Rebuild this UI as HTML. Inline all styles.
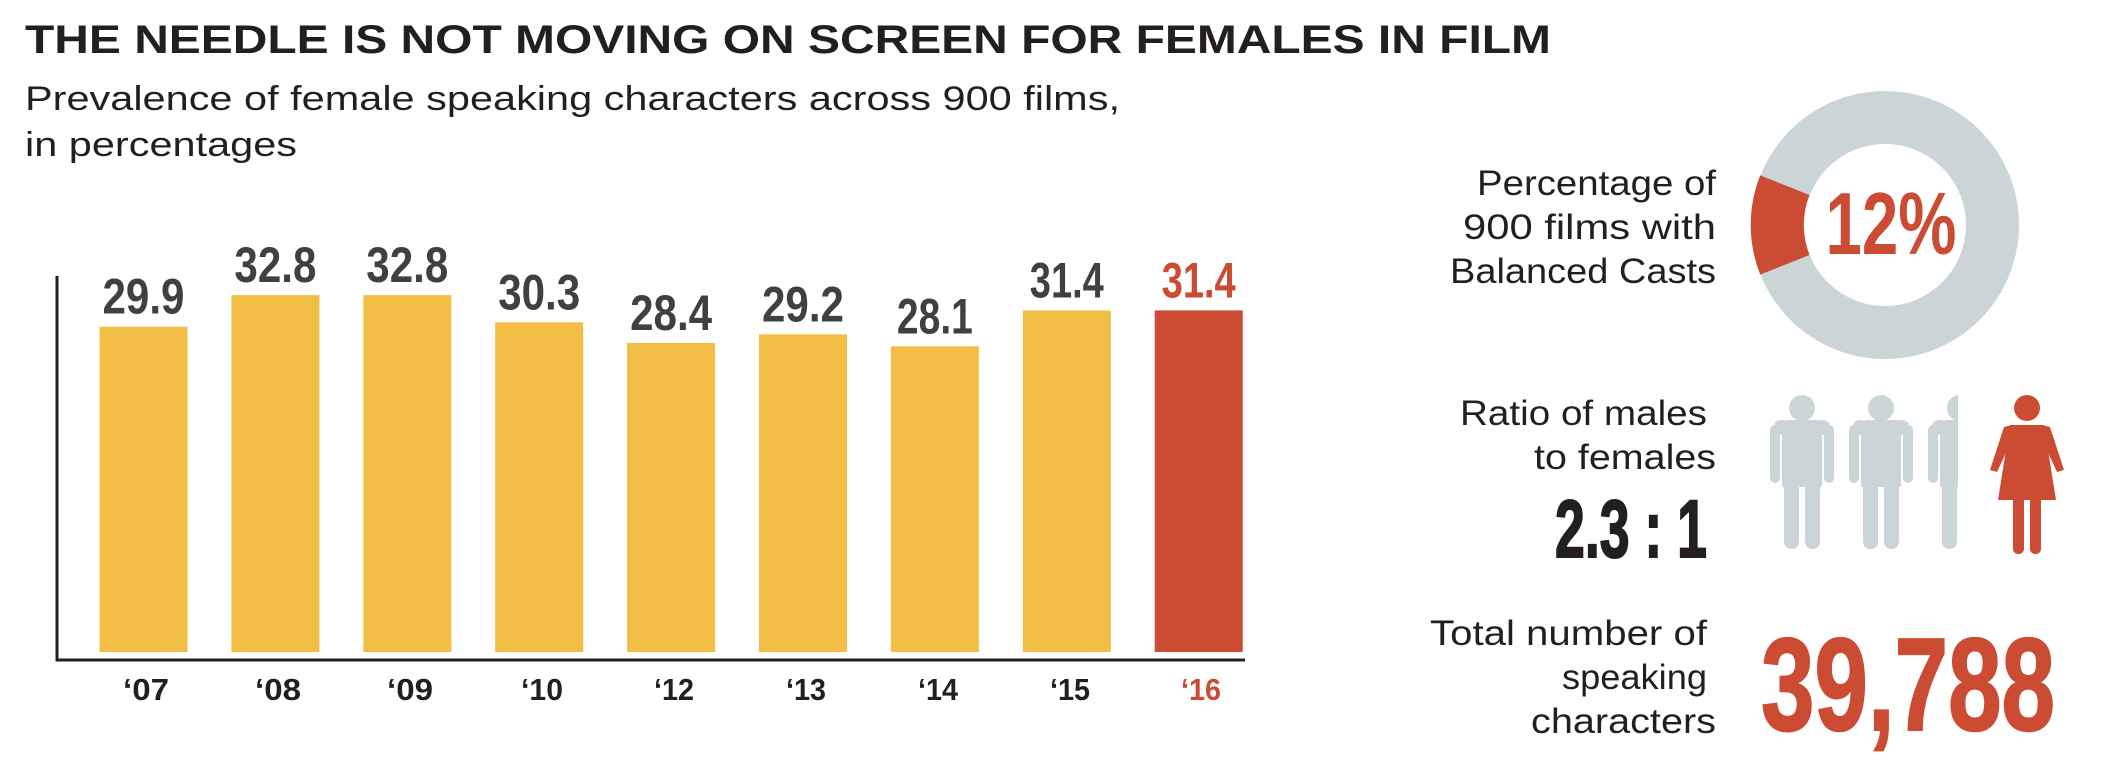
<!DOCTYPE html>
<html><head><meta charset="utf-8"><style>
html,body{margin:0;padding:0;background:#fff;}
svg{display:block;}
</style></head><body>
<svg width="2108" height="766" viewBox="0 0 2108 766" xmlns="http://www.w3.org/2000/svg" font-family="Liberation Sans, sans-serif">
<text x="25" y="53" font-size="40" font-weight="bold" fill="#231f20" textLength="1526" lengthAdjust="spacingAndGlyphs">THE NEEDLE IS NOT MOVING ON SCREEN FOR FEMALES IN FILM</text>
<text x="25" y="110" font-size="34" fill="#231f20" textLength="1095" lengthAdjust="spacingAndGlyphs">Prevalence of female speaking characters across 900 films,</text>
<text x="25" y="156" font-size="34" fill="#231f20" textLength="272" lengthAdjust="spacingAndGlyphs">in percentages</text>
<line x1="57" y1="276" x2="57" y2="661" stroke="#231f20" stroke-width="3"/>
<line x1="56" y1="660" x2="1245" y2="660" stroke="#231f20" stroke-width="3"/>
<g font-weight="bold" font-size="50" text-anchor="middle">
<rect x="99.5" y="326.7" width="88" height="325.3" fill="#f2be46"/><text x="143.5" y="313.7" fill="#3f4040" textLength="82" lengthAdjust="spacingAndGlyphs">29.9</text>
<rect x="231.4" y="295.1" width="88" height="356.9" fill="#f2be46"/><text x="275.4" y="282.1" fill="#3f4040" textLength="82" lengthAdjust="spacingAndGlyphs">32.8</text>
<rect x="363.3" y="295.1" width="88" height="356.9" fill="#f2be46"/><text x="407.3" y="282.1" fill="#3f4040" textLength="82" lengthAdjust="spacingAndGlyphs">32.8</text>
<rect x="495.2" y="322.3" width="88" height="329.7" fill="#f2be46"/><text x="539.2" y="309.3" fill="#3f4040" textLength="82" lengthAdjust="spacingAndGlyphs">30.3</text>
<rect x="627.1" y="343.0" width="88" height="309" fill="#f2be46"/><text x="671.1" y="330" fill="#3f4040" textLength="82" lengthAdjust="spacingAndGlyphs">28.4</text>
<rect x="759.0" y="334.3" width="88" height="317.7" fill="#f2be46"/><text x="803" y="321.3" fill="#3f4040" textLength="82" lengthAdjust="spacingAndGlyphs">29.2</text>
<rect x="890.9" y="346.3" width="88" height="305.7" fill="#f2be46"/><text x="934.9" y="333.3" fill="#3f4040" textLength="76" lengthAdjust="spacingAndGlyphs">28.1</text>
<rect x="1022.8" y="310.4" width="88" height="341.6" fill="#f2be46"/><text x="1066.8" y="297.4" fill="#3f4040" textLength="74" lengthAdjust="spacingAndGlyphs">31.4</text>
<rect x="1154.7" y="310.4" width="88" height="341.6" fill="#cc4b33"/><text x="1198.7" y="297.4" fill="#cc4b33" textLength="74" lengthAdjust="spacingAndGlyphs">31.4</text>
</g>
<g font-weight="bold" font-size="31" text-anchor="middle" fill="#231f20">
<text x="146" y="700" textLength="46" lengthAdjust="spacingAndGlyphs">‘07</text><text x="278" y="700" textLength="46" lengthAdjust="spacingAndGlyphs">‘08</text><text x="410" y="700" textLength="46" lengthAdjust="spacingAndGlyphs">‘09</text><text x="542" y="700" textLength="42" lengthAdjust="spacingAndGlyphs">‘10</text><text x="674" y="700" textLength="40" lengthAdjust="spacingAndGlyphs">‘12</text><text x="806" y="700" textLength="40" lengthAdjust="spacingAndGlyphs">‘13</text><text x="938" y="700" textLength="40" lengthAdjust="spacingAndGlyphs">‘14</text><text x="1070" y="700" textLength="40" lengthAdjust="spacingAndGlyphs">‘15</text><text x="1201" y="700" fill="#cc4b33" textLength="40" lengthAdjust="spacingAndGlyphs">‘16</text>
</g>
<circle cx="1885" cy="225" r="107.5" fill="none" stroke="#cbd5d8" stroke-width="53"/>
<path d="M1760.2,175.4 A134.5,134.5 0 0 0 1760.2,274.6 L1809.5,255 A81,81 0 0 1 1809.5,195 Z" fill="#cc4b33"/>
<text x="1891" y="254" font-weight="bold" font-size="88" text-anchor="middle" fill="#cc4b33" textLength="131" lengthAdjust="spacingAndGlyphs">12%</text>
<g font-size="35" fill="#231f20" text-anchor="end">
<text x="1716" y="195" textLength="239" lengthAdjust="spacingAndGlyphs">Percentage of</text>
<text x="1716" y="239" textLength="253" lengthAdjust="spacingAndGlyphs">900 films with</text>
<text x="1716" y="283" textLength="266" lengthAdjust="spacingAndGlyphs">Balanced Casts</text>
<text x="1707" y="425" textLength="247" lengthAdjust="spacingAndGlyphs">Ratio of males</text>
<text x="1716" y="469" textLength="182" lengthAdjust="spacingAndGlyphs">to females</text>
<text x="1707" y="645" textLength="277" lengthAdjust="spacingAndGlyphs">Total number of</text>
<text x="1707" y="689" textLength="145" lengthAdjust="spacingAndGlyphs">speaking</text>
<text x="1716" y="733" textLength="185" lengthAdjust="spacingAndGlyphs">characters</text>
</g>
<text x="1555" y="557" font-weight="bold" font-size="82" fill="#231f20" stroke="#231f20" stroke-width="2" textLength="152" lengthAdjust="spacingAndGlyphs">2.3 : 1</text>
<text x="1761" y="730" font-weight="bold" font-size="132" fill="#cc4b33" stroke="#cc4b33" stroke-width="2" textLength="294" lengthAdjust="spacingAndGlyphs">39,788</text>
<defs>
<g id="man" fill="#cbd5d8">
<circle cx="32" cy="13" r="13"/>
<path d="M12,30 Q12,25 18,25 L46,25 Q52,25 52,30 L52,92 L12,92 Z"/>
<rect x="0" y="30" width="10" height="58" rx="5"/>
<rect x="54" y="30" width="10" height="58" rx="5"/>
<path d="M4,32 Q4,25 12,25 L14,25 L14,40 L4,40 Z"/>
<path d="M60,32 Q60,25 52,25 L50,25 L50,40 L60,40 Z"/>
<rect x="14" y="80" width="15" height="74" rx="7"/>
<rect x="35" y="80" width="15" height="74" rx="7"/>
</g>
<clipPath id="cut"><rect x="1928" y="390" width="30" height="180"/></clipPath>
</defs>
<use href="#man" x="1770" y="395"/>
<use href="#man" x="1849" y="395"/>
<g clip-path="url(#cut)"><use href="#man" x="1928" y="395"/></g>
<g fill="#cc4b33">
<circle cx="2027" cy="408" r="13"/>
<path d="M2010,425 L2044,425 L2056,500 L1998,500 Z"/>
<path d="M2012,425 L2004,427 L1990,470 L1997,472 L2012,440 Z"/>
<path d="M2042,425 L2050,427 L2064,470 L2057,472 L2042,440 Z"/>
<rect x="2013" y="490" width="11" height="64" rx="5"/>
<rect x="2030" y="490" width="11" height="64" rx="5"/>
</g>
</svg>
</body></html>
